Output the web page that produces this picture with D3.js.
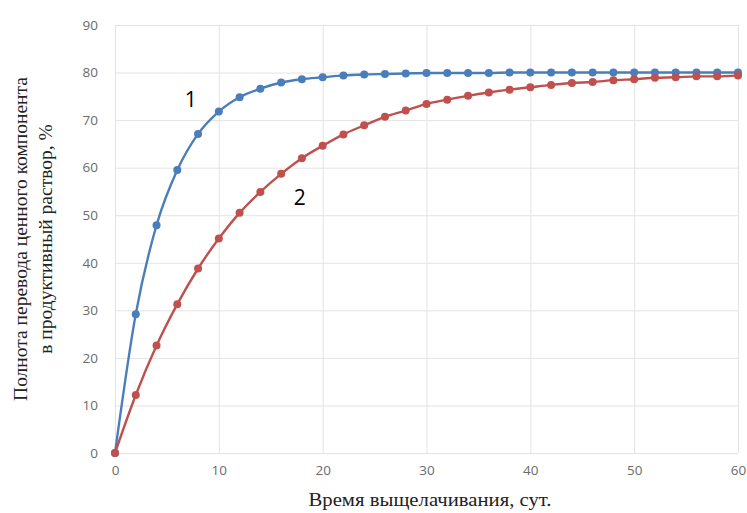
<!DOCTYPE html>
<html>
<head>
<meta charset="utf-8">
<script src="https://cdn.jsdelivr.net/npm/d3@7"></script>
<style>
  body { margin: 0; background: #fff; }
  svg { display: block; }
</style>
</head>
<body>
<svg id="chart"></svg>
<script>
// leaching time, days
const days = [0, 2, 4, 6, 8, 10, 12, 14, 16, 18, 20, 22, 24, 26, 28, 30,
  32, 34, 36, 38, 40, 42, 44, 46, 48, 50, 52, 54, 56, 58, 60];

// curve 1 (blue) and curve 2 (red), %
const series1 = [0, 29.2, 47.9, 59.5, 67.1, 71.8, 74.8, 76.6, 77.9, 78.6, 79.0,
  79.4, 79.6, 79.7, 79.8, 79.9, 79.9, 79.9, 79.9, 80, 80, 80, 80, 80, 80, 80,
  80, 80, 80, 80, 80];
const series2 = [0, 12.2, 22.6, 31.3, 38.8, 45.1, 50.5, 54.9, 58.7, 62.0, 64.6,
  67.0, 68.9, 70.7, 72.0, 73.4, 74.3, 75.1, 75.8, 76.4, 76.9, 77.4, 77.8, 78.0,
  78.4, 78.6, 78.9, 79.0, 79.2, 79.2, 79.4];

const xTicks = [0, 10, 20, 30, 40, 50, 60];
const yTicks = [0, 10, 20, 30, 40, 50, 60, 70, 80, 90];

const xTitle = 'Время выщелачивания, сут.';
const yTitle = ['Полнота перевода ценного компонента', 'в продуктивный раствор, %'];

const width = 747, height = 513;
const margin = { top: 25, right: 9, bottom: 60, left: 115 };

const svg = d3.select('#chart')
  .attr('width', width)
  .attr('height', height);

const x = d3.scaleLinear()
  .domain([0, 60])
  .range([margin.left, width - margin.right]);

const y = d3.scaleLinear()
  .domain([0, 90])
  .range([height - margin.bottom, margin.top]);

// grid
svg.append('g')
  .attr('transform', `translate(0,${height - margin.bottom})`)
  .call(d3.axisBottom(x).tickValues(xTicks).tickSize(-(height - margin.top - margin.bottom)).tickFormat(''))
  .call(g => g.select('.domain').remove())
  .call(g => g.selectAll('line').attr('stroke', '#e3e3e3').attr('stroke-width', 1));

svg.append('g')
  .attr('transform', `translate(${margin.left},0)`)
  .call(d3.axisLeft(y).tickValues(yTicks).tickSize(-(width - margin.left - margin.right)).tickFormat(''))
  .call(g => g.select('.domain').remove())
  .call(g => g.selectAll('line').attr('stroke', '#e3e3e3').attr('stroke-width', 1));

// tick labels
const tickFont = "'Open Sans', 'Liberation Sans', sans-serif";

svg.append('g')
  .attr('transform', `translate(0,${height - margin.bottom})`)
  .call(d3.axisBottom(x).tickValues(xTicks).tickSize(0).tickPadding(12))
  .call(g => g.select('.domain').remove())
  .call(g => g.selectAll('text')
    .attr('fill', '#6b6b6b')
    .style('font-family', tickFont)
    .style('font-size', '13.5px'));

svg.append('g')
  .attr('transform', `translate(${margin.left},0)`)
  .call(d3.axisLeft(y).tickValues(yTicks).tickSize(0).tickPadding(17))
  .call(g => g.select('.domain').remove())
  .call(g => g.selectAll('text')
    .attr('fill', '#6b6b6b')
    .style('font-family', tickFont)
    .style('font-size', '13.5px'));

// curves (red drawn last, it sits on top in the original)
const line = d3.line()
  .x((d, i) => x(days[i]))
  .y(d => y(d))
  .curve(d3.curveMonotoneX);

const curves = [
  { values: series1, color: '#4a7ebb' },
  { values: series2, color: '#c0504d' }
];

curves.forEach(c => {
  svg.append('path')
    .datum(c.values)
    .attr('fill', 'none')
    .attr('stroke', c.color)
    .attr('stroke-width', 2.4)
    .attr('d', line);

  svg.append('g')
    .selectAll('circle')
    .data(c.values)
    .join('circle')
    .attr('cx', (d, i) => x(days[i]))
    .attr('cy', d => y(d))
    .attr('r', 4)
    .attr('fill', c.color);
});

// curve labels
svg.append('text')
  .attr('x', x(7.3))
  .attr('y', y(72.8))
  .attr('text-anchor', 'middle')
  .style('font-family', tickFont)
  .style('font-size', '21px')
  .attr('fill', '#000')
  .text('1');

svg.append('text')
  .attr('x', x(17.8))
  .attr('y', y(52.1))
  .attr('text-anchor', 'middle')
  .style('font-family', tickFont)
  .style('font-size', '21px')
  .attr('fill', '#000')
  .text('2');

// axis titles
const titleFont = "'Liberation Serif', 'DejaVu Serif', serif";

svg.append('text')
  .attr('x', 430)
  .attr('y', 506)
  .attr('text-anchor', 'middle')
  .attr('textLength', 243)
  .attr('lengthAdjust', 'spacingAndGlyphs')
  .style('font-family', titleFont)
  .style('font-size', '19.5px')
  .attr('fill', '#222')
  .text(xTitle);

const yt = svg.append('text')
  .attr('transform', 'translate(27,239) rotate(-90)')
  .attr('text-anchor', 'middle')
  .style('font-family', titleFont)
  .style('font-size', '19.5px')
  .attr('fill', '#222');

yTitle.forEach((t, i) => {
  yt.append('tspan')
    .attr('x', 0)
    .attr('dy', i === 0 ? 0 : 25)
    .text(t);
});
</script>
</body>
</html>
